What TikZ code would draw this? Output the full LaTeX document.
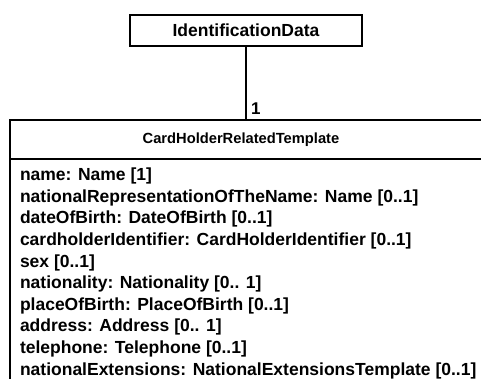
\documentclass[tikz,border=0pt]{standalone}
\usepackage{fontspec}
\setmainfont{Liberation Sans}
\usetikzlibrary{positioning}

\begin{document}
\begin{tikzpicture}[
    x=1pt, y=-1pt,
    line width=2pt,
    box/.style={draw, rectangle, inner sep=0pt, outer sep=0pt, font=\fontsize{17.5}{21}\selectfont\bfseries},
    classname/.style={inner sep=0pt, font=\fontsize{14.7}{18}\selectfont\bfseries},
    attrlist/.style={align=left, inner sep=0pt, font=\fontsize{17.5}{21.6}\selectfont\bfseries},
    mult/.style={inner sep=1pt, font=\fontsize{17}{20}\selectfont\bfseries}]

\useasboundingbox (0,0) rectangle (481,379);
\clip (0,0) rectangle (481,379);

% Associated class
\node[box, minimum width=232pt, minimum height=31pt] (iddata) at (246,30.5) {IdentificationData};

% Template class, runs off the page
\node[box, minimum width=495pt, minimum height=39pt, anchor=north west] (header) at (10,120) {};
\node[classname] (hdrname) at (241,140) {CardHolderRelatedTemplate};
\node[box, minimum width=495pt, minimum height=240pt, anchor=north west] (body) at (header.south west) {};
\node[attrlist, anchor=north west] (attrs) at (19,167) {%
    name: Name [1]\\
    nationalRepresentationOfTheName: Name [0..1]\\
    dateOfBirth: DateOfBirth [0..1]\\
    cardholderIdentifier: CardHolderIdentifier [0..1]\\
    sex [0..1]\\
    nationality: Nationality [0.. 1]\\
    placeOfBirth: PlaceOfBirth [0..1]\\
    address: Address [0.. 1]\\
    telephone: Telephone [0..1]\\
    nationalExtensions: NationalExtensionsTemplate [0..1]};

% Association
\draw (iddata.south) -- (iddata.south |- header.north)
    node[mult, pos=1, anchor=south west, xshift=3pt, yshift=3pt] (mult1) {1};

\end{tikzpicture}
\end{document}
